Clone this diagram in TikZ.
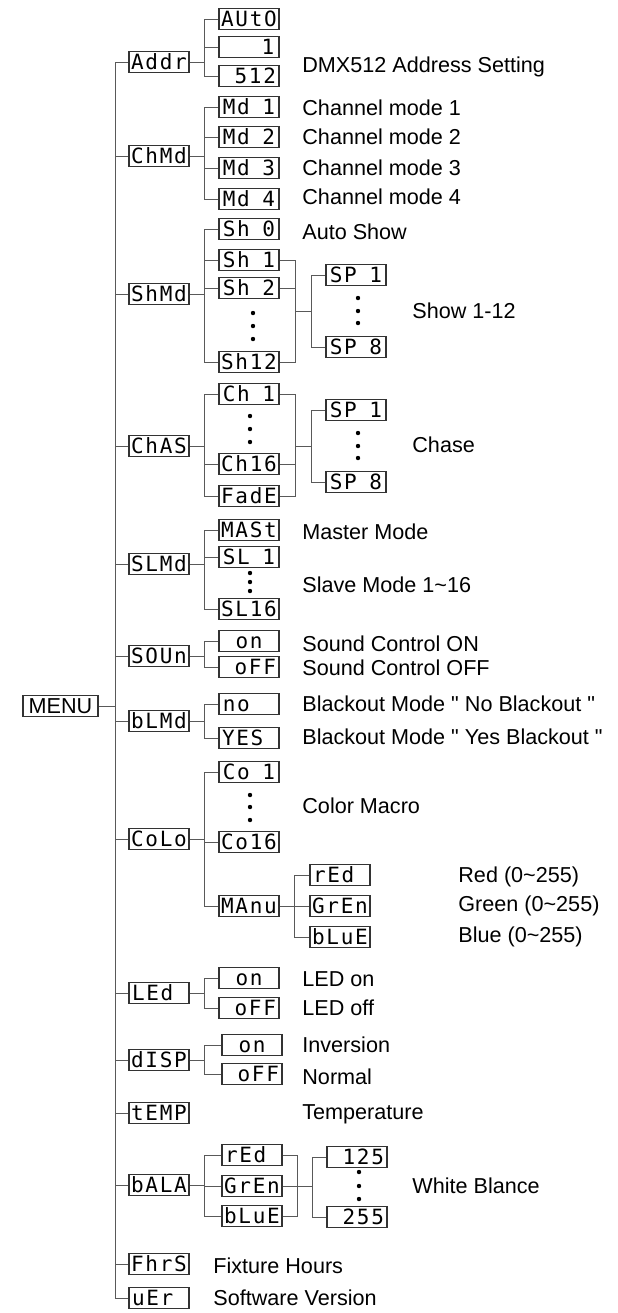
\documentclass[tikz,border=0pt]{standalone}
\usepackage{fontspec}
\setmainfont{Liberation Sans}[Ligatures=TeXOff]
\newfontfamily\lcdfont[LetterSpace=8]{DejaVu Sans Mono}
\newcommand{\bl}{\hphantom{0}}
\tikzset{
	lcd/.style={draw=black!80, line width=0.55pt, minimum width=30pt, minimum height=10.5pt, inner sep=0pt, text height=7.6pt, text depth=0pt, font=\lcdfont\fontsize{10.5}{10.5}\selectfont},
	txt/.style={anchor=west, inner sep=0pt, text height=7.7pt, text depth=0pt, font=\fontsize{10.8}{12}\selectfont},
	wire/.style={draw=black!65, line width=0.5pt},
}
\begin{document}
\begin{tikzpicture}[x=0.5pt,y=-0.5pt]
	\useasboundingbox (0,0) rectangle (617,1313);
	\node[lcd, minimum width=37.5pt, font=\fontsize{10.8}{12}\selectfont, text height=7.7pt] (menu) at (60.5,706) {MENU};
	\draw[wire] (menu.east) -- ++(17,0) coordinate (trunk);
	
	\node[lcd] (addr) at (159,62) {Addr};
	\node[lcd] (chmd) at (159,156) {ChMd};
	\node[lcd] (shmd) at (159,294) {ShMd};
	\node[lcd] (chas) at (159,446) {ChAS};
	\node[lcd] (slmd) at (159,564) {SLMd};
	\node[lcd] (soun) at (159,656) {SOUn};
	\node[lcd] (blmd) at (159,721) {bLMd};
	\node[lcd] (colo) at (159,839) {CoLo};
	\node[lcd] (led) at (159,993) {LEd\bl};
	\node[lcd] (disp) at (159,1060) {dISP};
	\node[lcd] (temp) at (159,1113) {tEMP};
	\node[lcd] (bala) at (159,1185) {bALA};
	\node[lcd] (fhrs) at (159,1264) {FhrS};
	\node[lcd] (uer) at (159,1298) {uEr\bl};
	\foreach \n in {addr,chmd,shmd,chas,slmd,soun,blmd,colo,led,disp,temp,bala,fhrs,uer}
		\draw[wire] (trunk) |- (\n.west);
	
	\node[lcd] (auto) at (249,19) {AUtO};
	\node[lcd] (adr1) at (249,47) {\bl\bl\bl1};
	\node[lcd] (adr512) at (249,76) {\bl512};
	\draw[wire] (addr.east) -- ++(15,0) coordinate (addrf);
	\foreach \n in {auto,adr1,adr512} \draw[wire] (addrf) |- (\n.west);
	\node[txt] (dmxtxt) at (302,65) {DMX512 Address Setting};
	
	\node[lcd] (md1) at (249,107) {Md\bl1};
	\node[lcd] (md2) at (249,137) {Md\bl2};
	\node[lcd] (md3) at (249,168) {Md\bl3};
	\node[lcd] (md4) at (249,199) {Md\bl4};
	\draw[wire] (chmd.east) -- ++(15,0) coordinate (chmdf);
	\foreach \n in {md1,md2,md3,md4} \draw[wire] (chmdf) |- (\n.west);
	\node[txt] (md1txt) at (302,108) {Channel mode 1};
	\node[txt] (md2txt) at (302,137) {Channel mode 2};
	\node[txt] (md3txt) at (302,168) {Channel mode 3};
	\node[txt] (md4txt) at (302,197) {Channel mode 4};
	
	\node[lcd] (sh0) at (249,229) {Sh\bl0};
	\node[lcd] (sh1) at (249,260) {Sh\bl1};
	\node[lcd] (sh2) at (249,288) {Sh\bl2};
	\node[lcd] (sh12) at (249,362) {Sh12};
	\foreach \y in {313,326,339} \fill (253,\y) circle (1.1pt);
	\draw[wire] (shmd.east) -- ++(15,0) coordinate (shmdf);
	\foreach \n in {sh0,sh1,sh2,sh12} \draw[wire] (shmdf) |- (\n.west);
	\node[lcd] (sp1) at (356,275) {SP\bl1};
	\node[lcd] (sp8) at (356,347) {SP\bl8};
	\foreach \y in {298,311,323} \fill (358,\y) circle (1.1pt);
	\coordinate (shr) at (295,311);
	\coordinate (spl) at (311,311);
	\draw[wire] (shr) -- (spl);
	\foreach \n in {sh1,sh2,sh12} \draw[wire] (shr) |- (\n.east);
	\foreach \n in {sp1,sp8} \draw[wire] (spl) |- (\n.west);
	\node[txt] (autotxt) at (302,232) {Auto Show};
	\node[txt] (showtxt) at (412,311) {Show 1-12};
	
	\node[lcd] (ch1) at (249,394) {Ch\bl1};
	\node[lcd] (ch16) at (249,464) {Ch16};
	\node[lcd] (fade) at (249,496) {FadE};
	\foreach \y in {416,429,442} \fill (250,\y) circle (1.1pt);
	\draw[wire] (chas.east) -- ++(15,0) coordinate (chasf);
	\foreach \n in {ch1,ch16,fade} \draw[wire] (chasf) |- (\n.west);
	\node[lcd] (csp1) at (356,410) {SP\bl1};
	\node[lcd] (csp8) at (356,482) {SP\bl8};
	\foreach \y in {433,446,458} \fill (358,\y) circle (1.1pt);
	\coordinate (chr) at (295,446);
	\coordinate (cspl) at (311,446);
	\draw[wire] (chr) -- (cspl);
	\foreach \n in {ch1,ch16,fade} \draw[wire] (chr) |- (\n.east);
	\foreach \n in {csp1,csp8} \draw[wire] (cspl) |- (\n.west);
	\node[txt] (chasetxt) at (412,445) {Chase};
	
	\node[lcd] (mast) at (249,530) {MASt};
	\node[lcd] (sl1) at (249,557) {SL\bl1};
	\node[lcd] (sl16) at (249,609) {SL16};
	\foreach \y in {573,582,591} \fill (250,\y) circle (1.1pt);
	\draw[wire] (slmd.east) -- ++(15,0) coordinate (slmdf);
	\foreach \n in {mast,sl1,sl16} \draw[wire] (slmdf) |- (\n.west);
	\node[txt] (masttxt) at (302,532) {Master Mode};
	\node[txt] (slavetxt) at (302,585) {Slave Mode 1\textasciitilde16};
	
	\node[lcd] (son) at (249,641) {\bl on\bl};
	\node[lcd] (soff) at (249,667) {\bl oFF};
	\draw[wire] (soun.east) -- ++(15,0) coordinate (sounf);
	\foreach \n in {son,soff} \draw[wire] (sounf) |- (\n.west);
	\node[txt] (sontxt) at (302,644) {Sound Control ON};
	\node[txt] (sofftxt) at (302,668) {Sound Control OFF};
	
	\node[lcd] (bno) at (249,704) {no\bl\bl};
	\node[lcd] (byes) at (249,738) {YES\bl};
	\draw[wire] (blmd.east) -- ++(15,0) coordinate (blmdf);
	\foreach \n in {bno,byes} \draw[wire] (blmdf) |- (\n.west);
	\node[txt] (bnotxt) at (302,704) {Blackout Mode " No Blackout "};
	\node[txt] (byestxt) at (302,737) {Blackout Mode " Yes Blackout "};
	
	\node[lcd] (co1) at (249,772) {Co\bl1};
	\node[lcd] (co16) at (249,842) {Co16};
	\node[lcd] (manu) at (249,906) {MAnu};
	\foreach \y in {795,807,820} \fill (250,\y) circle (1.1pt);
	\draw[wire] (colo.east) -- ++(15,0) coordinate (colof);
	\foreach \n in {co1,co16,manu} \draw[wire] (colof) |- (\n.west);
	\node[txt] (colotxt) at (302,806) {Color Macro};
	\node[lcd] (mred) at (340,875) {rEd\bl};
	\node[lcd] (mgrn) at (340,906) {GrEn};
	\node[lcd] (mblu) at (340,937) {bLuE};
	\draw[wire] (manu.east) -- ++(15,0) coordinate (manuf);
	\foreach \n in {mred,mgrn,mblu} \draw[wire] (manuf) |- (\n.west);
	\node[txt] (redtxt) at (458,875) {Red (0\textasciitilde255)};
	\node[txt] (grntxt) at (458,904) {Green (0\textasciitilde255)};
	\node[txt] (blutxt) at (458,935) {Blue (0\textasciitilde255)};
	
	\node[lcd] (lon) at (249,978) {\bl on\bl};
	\node[lcd] (loff) at (249,1008) {\bl oFF};
	\draw[wire] (led.east) -- ++(15,0) coordinate (ledf);
	\foreach \n in {lon,loff} \draw[wire] (ledf) |- (\n.west);
	\node[txt] (lontxt) at (302,979) {LED on};
	\node[txt] (lofftxt) at (302,1008) {LED off};
	
	\node[lcd] (don) at (252,1045) {\bl on\bl};
	\node[lcd] (doff) at (252,1074) {\bl oFF};
	\draw[wire] (disp.east) -- ++(15,0) coordinate (dispf);
	\foreach \n in {don,doff} \draw[wire] (dispf) |- (\n.west);
	\node[txt] (dontxt) at (302,1045) {Inversion};
	\node[txt] (dofftxt) at (302,1077) {Normal};
	
	\node[txt] (temptxt) at (302,1112) {Temperature};
	
	\node[lcd] (bred) at (252,1155) {rEd\bl};
	\node[lcd] (bgrn) at (252,1186) {GrEn};
	\node[lcd] (bblu) at (252,1216) {bLuE};
	\draw[wire] (bala.east) -- ++(15,0) coordinate (balaf);
	\foreach \n in {bred,bgrn,bblu} \draw[wire] (balaf) |- (\n.west);
	\node[lcd] (b125) at (357,1157) {\bl125};
	\node[lcd] (b255) at (357,1217) {\bl255};
	\foreach \y in {1172,1186,1199} \fill (359,\y) circle (1.1pt);
	\coordinate (br) at (297,1186);
	\coordinate (bvl) at (312,1186);
	\draw[wire] (br) -- (bvl);
	\foreach \n in {bred,bgrn,bblu} \draw[wire] (br) |- (\n.east);
	\foreach \n in {b125,b255} \draw[wire] (bvl) |- (\n.west);
	\node[txt] (whitetxt) at (412,1186) {White Blance};
	
	\node[txt] (fhrstxt) at (213,1266) {Fixture Hours};
	\node[txt] (uertxt) at (213,1298) {Software Version};
\end{tikzpicture}
\end{document}
